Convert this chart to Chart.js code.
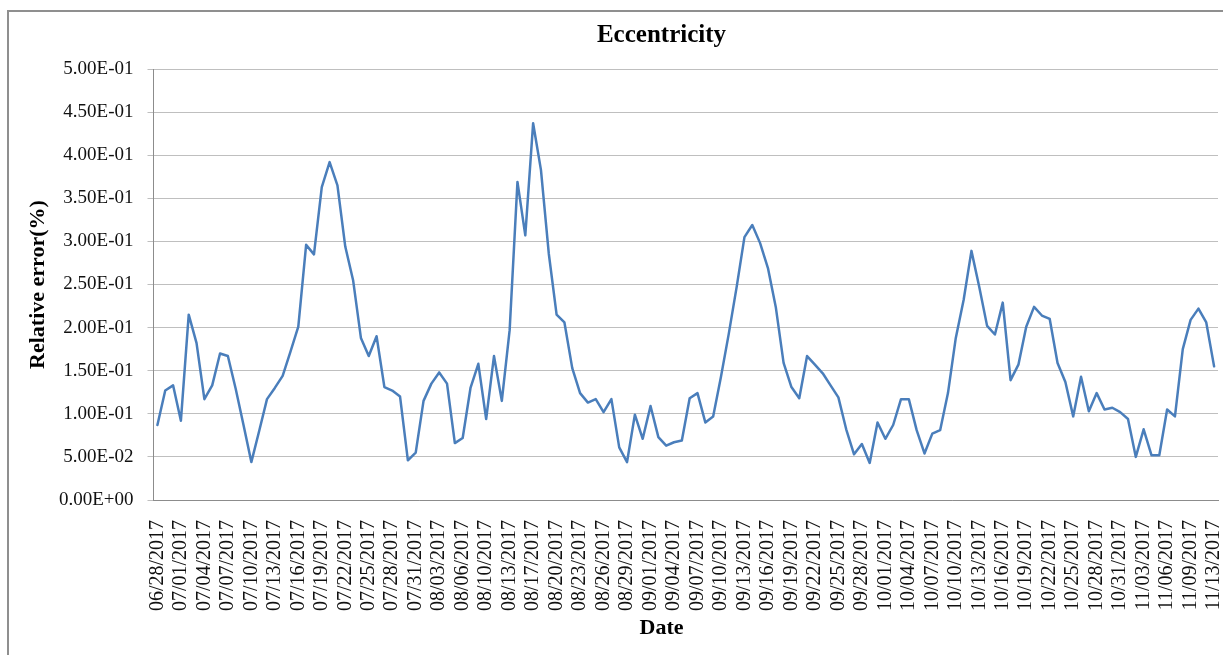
<!DOCTYPE html>
<html>
<head>
<meta charset="utf-8">
<script src="https://cdn.jsdelivr.net/npm/chart.js@4.4.1/dist/chart.umd.min.js"></script>
<style>
  html, body { margin: 0; padding: 0; background: #ffffff; overflow: hidden; }
  #wrap { position: relative; width: 1323px; height: 655px; }
  #frame { position: absolute; left: 7px; top: 10px; width: 1400px; height: 800px;
           border-left: 2px solid #8f8f8f; border-top: 2px solid #8f8f8f; pointer-events: none; }
</style>
</head>
<body>
<div id="wrap">
  <canvas id="c" width="1323" height="655"></canvas>
  <div id="frame"></div>
</div>
<script>
const chartTitle = 'Eccentricity';
const yTitle = 'Relative error(%)';
const xTitle = 'Date';

const dates = [
  "06/28/2017","06/29/2017","06/30/2017",
  "07/01/2017","07/02/2017","07/03/2017","07/04/2017","07/05/2017","07/06/2017","07/07/2017","07/08/2017","07/09/2017","07/10/2017",
  "07/11/2017","07/12/2017","07/13/2017","07/14/2017","07/15/2017","07/16/2017","07/17/2017","07/18/2017","07/19/2017","07/20/2017",
  "07/21/2017","07/22/2017","07/23/2017","07/24/2017","07/25/2017","07/26/2017","07/27/2017","07/28/2017","07/29/2017","07/30/2017","07/31/2017",
  "08/01/2017","08/02/2017","08/03/2017","08/04/2017","08/05/2017","08/06/2017","08/07/2017","08/09/2017","08/10/2017",
  "08/11/2017","08/12/2017","08/13/2017","08/14/2017","08/16/2017","08/17/2017","08/18/2017","08/19/2017","08/20/2017",
  "08/21/2017","08/22/2017","08/23/2017","08/24/2017","08/25/2017","08/26/2017","08/27/2017","08/28/2017","08/29/2017","08/30/2017","08/31/2017",
  "09/01/2017","09/02/2017","09/03/2017","09/04/2017","09/05/2017","09/06/2017","09/07/2017","09/08/2017","09/09/2017","09/10/2017",
  "09/11/2017","09/12/2017","09/13/2017","09/14/2017","09/15/2017","09/16/2017","09/17/2017","09/18/2017","09/19/2017","09/20/2017",
  "09/21/2017","09/22/2017","09/23/2017","09/24/2017","09/25/2017","09/26/2017","09/27/2017","09/28/2017","09/29/2017","09/30/2017",
  "10/01/2017","10/02/2017","10/03/2017","10/04/2017","10/05/2017","10/06/2017","10/07/2017","10/08/2017","10/09/2017","10/10/2017",
  "10/11/2017","10/12/2017","10/13/2017","10/14/2017","10/15/2017","10/16/2017","10/17/2017","10/18/2017","10/19/2017","10/20/2017",
  "10/21/2017","10/22/2017","10/23/2017","10/24/2017","10/25/2017","10/26/2017","10/27/2017","10/28/2017","10/29/2017","10/30/2017","10/31/2017",
  "11/01/2017","11/02/2017","11/03/2017","11/04/2017","11/05/2017","11/06/2017","11/07/2017","11/08/2017","11/09/2017","11/10/2017","11/11/2017","11/13/2017"
];

const relErr = [
  0.087, 0.127, 0.133, 0.092, 0.215, 0.182, 0.117, 0.133, 0.170, 0.167,
  0.129, 0.087, 0.044, 0.080, 0.117, 0.130, 0.144, 0.172, 0.201, 0.296,
  0.285, 0.363, 0.392, 0.365, 0.294, 0.255, 0.188, 0.167, 0.190, 0.131,
  0.127, 0.120, 0.046, 0.055, 0.115, 0.135, 0.148, 0.135, 0.066, 0.072,
  0.130, 0.158, 0.094, 0.167, 0.115, 0.197, 0.369, 0.307, 0.437, 0.383,
  0.286, 0.215, 0.206, 0.153, 0.124, 0.113, 0.117, 0.102, 0.117, 0.061,
  0.044, 0.099, 0.071, 0.109, 0.073, 0.063, 0.067, 0.069, 0.118, 0.124,
  0.090, 0.097, 0.143, 0.193, 0.247, 0.305, 0.319, 0.298, 0.269, 0.224,
  0.159, 0.131, 0.118, 0.167, 0.157, 0.147, 0.133, 0.119, 0.082, 0.053,
  0.065, 0.043, 0.090, 0.071, 0.087, 0.117, 0.117, 0.081, 0.054, 0.077,
  0.081, 0.124, 0.188, 0.232, 0.289, 0.247, 0.202, 0.192, 0.229, 0.139,
  0.157, 0.201, 0.224, 0.214, 0.210, 0.159, 0.137, 0.097, 0.143, 0.103,
  0.124, 0.105, 0.107, 0.102, 0.094, 0.050, 0.082, 0.052, 0.052, 0.105,
  0.097, 0.175, 0.209, 0.222, 0.206, 0.155
];

const yMin = 0, yMax = 0.5, yStep = 0.05;
const labelEvery = 3;

function sciLabel(v) {
  const s = Number(v).toExponential(2);
  const parts = s.split('e');
  let exp = parseInt(parts[1], 10);
  const sign = exp < 0 ? '-' : '+';
  exp = Math.abs(exp);
  return parts[0] + 'E' + sign + (exp < 10 ? '0' + exp : String(exp));
}

const serif = "'Liberation Serif', 'Times New Roman', serif";

new Chart(document.getElementById('c'), {
  type: 'line',
  data: {
    labels: dates,
    datasets: [{
      data: relErr,
      borderColor: '#4a7ebb',
      backgroundColor: '#4a7ebb',
      borderWidth: 2.5,
      pointRadius: 0,
      fill: false,
      tension: 0,
      borderJoinStyle: 'round',
      borderCapStyle: 'round'
    }]
  },
  options: {
    responsive: false,
    devicePixelRatio: 1,
    animation: false,
    layout: { padding: 0 },
    plugins: {
      legend: { display: false },
      tooltip: { enabled: false },
      title: {
        display: true,
        text: chartTitle,
        color: '#000000',
        font: { family: serif, size: 25, weight: 'bold' },
        padding: { top: 21, bottom: 18 }
      },
      subtitle: {
        display: true,
        position: 'bottom',
        text: xTitle,
        color: '#000000',
        font: { family: serif, size: 22, weight: 'bold' },
        padding: { top: 0, bottom: 13.8 }
      }
    },
    scales: {
      x: {
        type: 'category',
        offset: true,
        grid: { display: false },
        border: { display: true, color: '#8c8c8c', width: 1 },
        ticks: {
          autoSkip: false,
          minRotation: 90,
          maxRotation: 90,
          padding: 12,
          color: '#111111',
          font: { family: serif, size: 20 },
          callback: function (val, index) {
            return index % labelEvery === 0 ? this.getLabelForValue(val) : '';
          }
        },
        afterFit: function (scale) { scale.height = 114.8; }
      },
      y: {
        position: 'left',
        min: yMin,
        max: yMax,
        grid: { color: '#bfbfbf', lineWidth: 1, tickLength: 6, drawTicks: true },
        border: { display: true, color: '#8c8c8c', width: 1 },
        ticks: {
          stepSize: yStep,
          padding: 14,
          color: '#111111',
          font: { family: serif, size: 19 },
          callback: function (v) { return sciLabel(v); }
        },
        title: {
          display: true,
          text: yTitle,
          color: '#000000',
          font: { family: serif, size: 22, weight: 'bold' },
          padding: { top: 25, bottom: 0 }
        },
        afterFit: function (scale) { scale.width = 153.5; }
      },
      y2: {
        position: 'right',
        display: true,
        grid: { display: false },
        border: { display: false },
        ticks: { display: false },
        afterFit: function (scale) { scale.width = 105; }
      }
    }
  }
});
</script>
</body>
</html>
